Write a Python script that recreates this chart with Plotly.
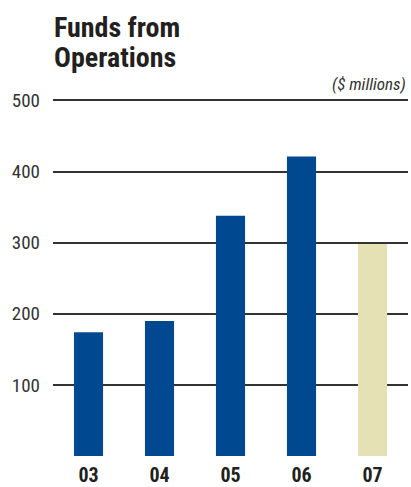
import plotly.graph_objects as go

# Funds from operations by fiscal year ($ millions)
years = ["03", "04", "05", "06", "07"]
funds = [174, 190, 338, 421, 298]
bar_colors = ["#004990", "#004990", "#004990", "#004990", "#e5e1b5"]
y_ticks = [100, 200, 300, 400, 500]

NARROW = ("Roboto Condensed, Liberation Sans Narrow, Noto Sans Condensed, "
          "DejaVu Sans Condensed, sans-serif")

PLOT_TOP, PLOT_BOTTOM = 99, 456
PLOT_H = PLOT_BOTTOM - PLOT_TOP


def paper_y(px):
    """Convert a pixel row of the page to a paper y coordinate."""
    return (PLOT_BOTTOM - px) / PLOT_H


fig = go.Figure(
    go.Bar(
        x=years,
        y=funds,
        marker=dict(color=bar_colors, line=dict(width=0)),
        width=0.41,
        hoverinfo="x+y",
    )
)

fig.update_layout(
    width=411,
    height=487,
    margin=dict(l=53, r=3, t=PLOT_TOP, b=487 - PLOT_BOTTOM, autoexpand=False),
    paper_bgcolor="white",
    plot_bgcolor="white",
    showlegend=False,
    xaxis=dict(
        range=[-0.5, 4.5],
        showgrid=False,
        zeroline=False,
        showline=False,
        ticks="",
        automargin=False,
        ticklabelstandoff=5,
        tickfont=dict(family=NARROW, size=20, color="#231f20", weight="bold"),
    ),
    yaxis=dict(
        range=[0, 502],
        tickvals=y_ticks,
        ticktext=[str(v) for v in y_ticks],
        showgrid=True,
        gridcolor="#333333",
        gridwidth=2,
        zeroline=False,
        showline=False,
        ticks="",
        automargin=False,
        ticklabelstandoff=12,
        tickfont=dict(family=NARROW, size=19, color="#333333"),
    ),
    annotations=[
        dict(
            text="<b>Funds from</b>",
            xref="paper", yref="paper",
            x=-0.003, y=paper_y(46),
            xanchor="left", yanchor="bottom",
            showarrow=False,
            font=dict(family=NARROW, size=28, color="#231f20"),
        ),
        dict(
            text="<b>Operations</b>",
            xref="paper", yref="paper",
            x=-0.003, y=paper_y(76),
            xanchor="left", yanchor="bottom",
            showarrow=False,
            font=dict(family=NARROW, size=28, color="#231f20"),
        ),
        dict(
            text="<i>($ millions)</i>",
            xref="paper", yref="paper",
            x=1.0, y=paper_y(96),
            xanchor="right", yanchor="bottom",
            showarrow=False,
            font=dict(family=NARROW, size=17, color="#333333"),
        ),
    ],
)

fig.write_html("out.html")
